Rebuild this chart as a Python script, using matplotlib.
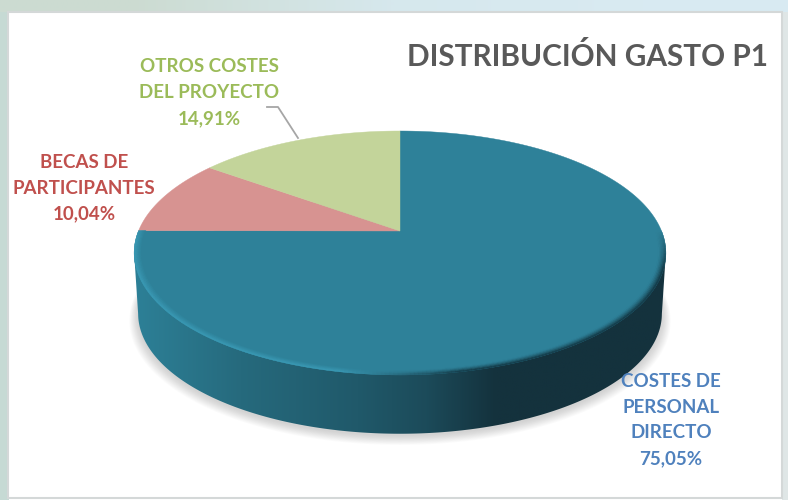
#!/usr/bin/env python3
import numpy as np
import matplotlib
matplotlib.use("Agg")
import matplotlib.pyplot as plt
from matplotlib.collections import PolyCollection
from matplotlib.colors import LinearSegmentedColormap, to_rgb
from matplotlib.patches import Polygon

titulo = "DISTRIBUCIÓN GASTO P1"
categorias = ["COSTES DE\nPERSONAL\nDIRECTO", "BECAS DE\nPARTICIPANTES", "OTROS COSTES\nDEL PROYECTO"]
valores = [75.05, 10.04, 14.91]
colores = ["#2e8199", "#d79391", "#c3d49a"]
colores_texto = ["#4f81bd", "#c0504d", "#9bbb59"]

plt.rcParams["font.family"] = ["Lato", "DejaVu Sans"]

# pie seen in perspective: centre of the slices, radii and tilt, in pixels
cx, cy = 400, 231
a, b, k = 261.5, 118, 0.18
alto = 61


def proyecta(x, y, dy=0, esc=1.0):
    d = 1 + k * y
    return cx + esc * a * x / d, cy + dy + esc * b * (-y) / d


def borde(t, r=1.0, dy=0, esc=1.0):
    # t in degrees, clockwise from the top
    t = np.radians(t)
    return proyecta(r * np.sin(t), r * np.cos(t), dy, esc)


fig = plt.figure(figsize=(7.88, 5), dpi=100)
ax = fig.add_axes([0, 0, 1, 1])

# window background
fondo = np.array([[0.80, 0.86, 0.82], [0.84, 0.91, 0.93], [0.85, 0.92, 0.95]])[None, :, :]
ax.imshow(fondo, extent=(0, 788, 13, 0), aspect="auto", interpolation="bilinear", zorder=0)
ax.add_patch(Polygon([(0, 12), (9, 12), (9, 500), (0, 500)], fc="#c6dad4", ec="none", zorder=0))
ax.add_patch(Polygon([(782, 12), (788, 12), (788, 500), (782, 500)], fc="#dfe6e6", ec="none", zorder=0))
ax.add_patch(Polygon([(8, 12), (782, 12), (782, 498), (8, 498)], fc="white", ec="#d4d8d8", lw=1.5, zorder=1))

t = np.linspace(0, 360, 721)

# soft shadow below the side
for i in range(12):
    x, y = borde(t, 1.0, alto + 2, 0.985 + 0.003 * i)
    ax.add_patch(Polygon(np.c_[x, y + i * 0.4], fc="#808080", ec="none", alpha=0.03, zorder=2))

# side of the pie, dark to the right
x0, y0 = borde(t)
x1, y1 = borde(t, 1.0, alto, 0.985)
der0, izq0 = np.argmax(x0), np.argmin(x0)
der1, izq1 = np.argmax(x1), np.argmin(x1)
lado_x = np.r_[x0[der0], x1[der1:izq1 + 1], x0[izq0]]
lado_y = np.r_[y0[der0], y1[der1:izq1 + 1], y0[izq0]]
cmap_lado = LinearSegmentedColormap.from_list(
    "lado", [(0, "#2d8097"), (0.2, "#266a7d"), (0.42, "#20596a"), (0.55, "#1c4b5a"), (0.68, "#14323d"), (1, "#14323d")])
img = ax.imshow(np.linspace(0, 1, 256)[None, :], cmap=cmap_lado, extent=(134, 666, 440, 200),
                aspect="auto", zorder=3)
img.set_clip_path(Polygon(np.c_[lado_x, lado_y], transform=ax.transData))

# slices, clockwise from the top
fin = np.cumsum(valores) / np.sum(valores) * 360
ini = np.r_[0, fin[:-1]]
for t0, t1, c in zip(ini, fin, colores):
    tt = np.linspace(t0, t1, 300)
    x, y = borde(tt)
    ax.add_patch(Polygon(np.r_[[(cx, cy)], np.c_[x, y]], fc=c, ec=c, lw=0.3, zorder=4))

# bevel along the front rim of the big slice
tt = np.linspace(90, fin[0], 240)
r_min = 0.972
radios = np.linspace(r_min, 1.0, 7)
quads, cols = [], []
base = np.array(to_rgb(colores[0]))
claro = np.array(to_rgb("#3c9db9"))
oscuro = np.array(to_rgb("#123440"))
for r0, r1 in zip(radios[:-1], radios[1:]):
    rm = (0.5 * (r0 + r1) - r_min) / (1 - r_min)
    for q0, q1 in zip(tt[:-1], tt[1:]):
        xa, ya = borde(np.array([q0, q1]), r0)
        xb, yb = borde(np.array([q1, q0]), r1)
        quads.append(np.c_[np.r_[xa, xb], np.r_[ya, yb]])
        q = 0.5 * (q0 + q1)
        xm = 0.5 * (xa[0] + xa[1])
        s = np.clip((xm - 340) / 120, 0, 1)
        if q > 180:
            frente = np.clip((-np.cos(np.radians(q)) + 0.15) / 0.2, 0, 1)
        else:
            frente = np.clip(-np.cos(np.radians(q)) / 0.3, 0, 1)
        w_osc = rm ** 1.5 * frente
        w_cla = 0.9 * rm ** 1.2 * frente
        col = base + (claro - base) * w_cla * (1 - s) + (oscuro - base) * w_osc * s
        cols.append(np.clip(col, 0, 1))
ax.add_collection(PolyCollection(quads, facecolors=cols, edgecolors=cols, linewidths=0.3, zorder=5))

# title, leader line and labels
ax.text(588, 56, titulo, color="#595959", fontsize=21.4, fontweight="bold", ha="center", va="center", zorder=6)
ax.plot([267, 278, 298], [107, 107, 138], color="#a6a6a6", lw=1.3, zorder=6)
pos_x = [671, 84, 209]
pos_y = [420, 188, 92.5]
for cat, v, c, px, py in zip(categorias, valores, colores_texto, pos_x, pos_y):
    txt = cat + "\n" + f"{v:.2f}%".replace(".", ",")
    ax.text(px, py, txt, color=c, fontsize=13.5, fontweight="bold", ha="center", va="center",
            linespacing=1.63, zorder=6)

ax.set_xlim(0, 788)
ax.set_ylim(500, 0)
ax.axis("off")
fig.savefig("out.png", dpi=100)
